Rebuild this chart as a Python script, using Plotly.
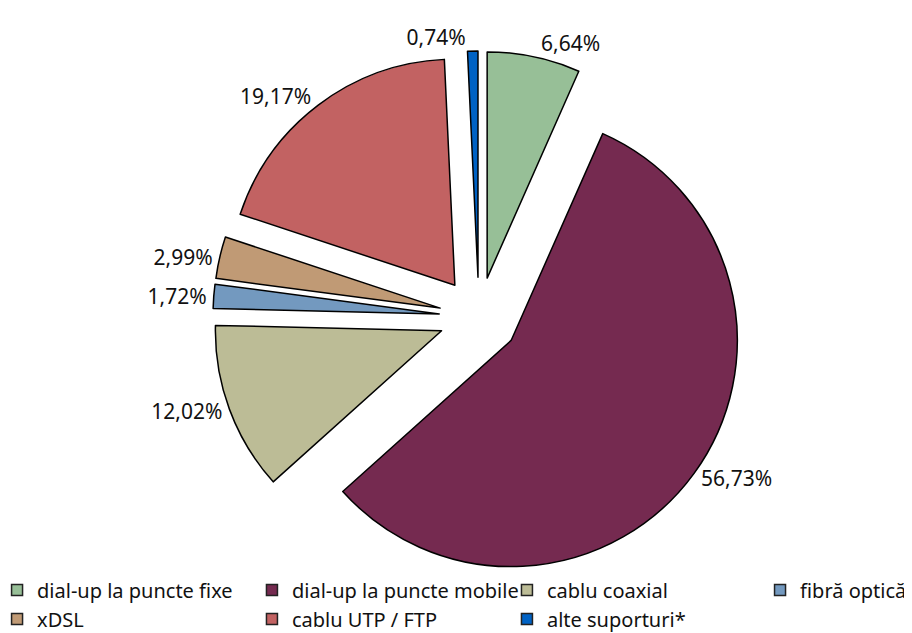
"""
Pie chart - internet access connections by medium (share of total)
"""

import plotly.graph_objects as go

categories = [
    'dial-up la puncte fixe',
    'dial-up la puncte mobile',
    'cablu coaxial',
    'fibră optică',
    'xDSL',
    'cablu UTP / FTP',
    'alte suporturi*',
]
shares = [6.64, 56.73, 12.02, 1.72, 2.99, 19.17, 0.74]
colors = ['#97bf97', '#752a50', '#bcbc96', '#7399bf', '#c09a75', '#c26262', '#0062c4']

FONT = 'Noto Sans, DejaVu Sans, sans-serif'

labels_text = [f'{v:.2f}%'.replace('.', ',') for v in shares]

fig = go.Figure()

fig.add_trace(go.Pie(
    labels=categories,
    values=shares,
    text=labels_text,
    textinfo='text',
    textposition='outside',
    textfont=dict(family=FONT, size=21, color='#111'),
    sort=False,
    direction='clockwise',
    rotation=0,
    pull=[0.176] * len(shares),
    marker=dict(colors=colors, line=dict(color='#000', width=1.5)),
    domain=dict(x=[0.2247, 0.8080], y=[0.0915, 0.9321]),
    showlegend=False,
    hoverinfo='label+percent',
))

# legend: 4 columns, built from empty marker traces so columns can be placed
legend_keys = ['legend', 'legend2', 'legend3', 'legend4']
for i, (name, col) in enumerate(zip(categories, colors)):
    fig.add_trace(go.Scatter(
        x=[None], y=[None],
        mode='markers',
        name=name,
        legend=legend_keys[i % 4],
        legendgroup=name,
        marker=dict(symbol='square', size=11, color=col,
                    line=dict(color='#222', width=1.5)),
        hoverinfo='skip',
    ))

legend_style = dict(
    font=dict(family=FONT, size=20, color='#111'),
    orientation='v',
    xanchor='left',
    yanchor='top',
    y=0.1115,
    bgcolor='rgba(0,0,0,0)',
    tracegroupgap=0,
)
col_x = [-0.012, 0.2675, 0.5471, 0.8246]

fig.update_layout(
    width=912,
    height=633,
    margin=dict(l=0, r=0, t=0, b=0, autoexpand=False),
    paper_bgcolor='white',
    plot_bgcolor='white',
    xaxis=dict(visible=False),
    yaxis=dict(visible=False),
    legend=dict(x=col_x[0], **legend_style),
    legend2=dict(x=col_x[1], **legend_style),
    legend3=dict(x=col_x[2], **legend_style),
    legend4=dict(x=col_x[3], **legend_style),
)

fig.write_html('out.html')
